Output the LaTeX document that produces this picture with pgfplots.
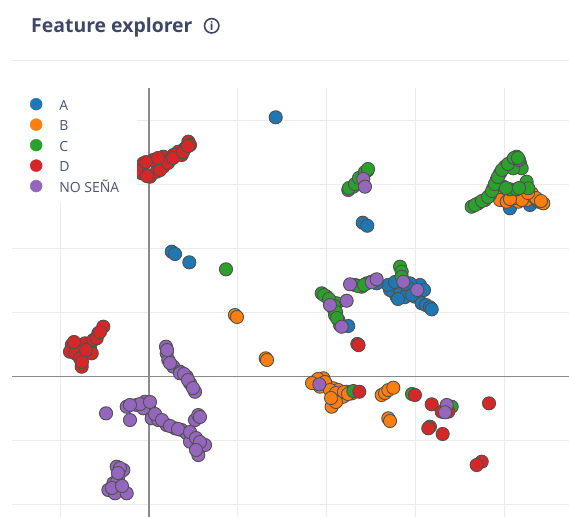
\documentclass[border=0pt]{standalone}
\usepackage{fontspec}
\setmainfont{Open Sans}
\usepackage{pgfplots}
\pgfplotsset{compat=1.18}
\definecolor{cA}{HTML}{1F77B4}
\definecolor{cB}{HTML}{FF7F0E}
\definecolor{cC}{HTML}{2CA02C}
\definecolor{cD}{HTML}{D62728}
\definecolor{cE}{HTML}{9467BD}
\definecolor{edgec}{HTML}{505050}
\definecolor{titlec}{HTML}{3E4766}
\definecolor{legc}{HTML}{4A5372}
\definecolor{gridc}{HTML}{EBEBEB}
\definecolor{zeroc}{HTML}{8A8A8A}
\pgfplotsset{
  pt/.style={only marks, mark=*, mark size=6.6pt, forget plot,
    mark options={draw=edgec, fill=#1, line width=0.9pt}},
}
\begin{document}
\begin{tikzpicture}
\useasboundingbox (0,0) rectangle (569bp,517bp);
\node[anchor=base west, inner sep=0pt, text=titlec, font=\fontsize{19.5}{22}\selectfont\bfseries] at (31bp,484.5bp) {Feature explorer};
\draw[titlec, line width=1.6bp] (211.7bp,491.2bp) circle (7.2bp);
\node[text=titlec, font=\fontsize{12}{13}\selectfont\bfseries, inner sep=0pt] at (211.7bp,491.2bp) {i};
\draw[gridc, line width=1bp] (12bp,456bp) -- (569bp,456bp);
\begin{axis}[
  at={(12bp,0bp)}, anchor=south west,
  scale only axis, width=557bp, height=429bp,
  xmin=-1.543, xmax=4.730, ymin=-2.195, ymax=4.508,
  axis line style={draw=none}, tick style={draw=none},
  xtick={-1,1,2,3,4}, ytick={-2,-1,1,2,3,4},
  xticklabels={}, yticklabels={},
  grid=major, major grid style={gridc, line width=1bp},
  extra x ticks={0}, extra y ticks={0}, extra x tick labels={}, extra y tick labels={},
  extra tick style={grid=major, major grid style={zeroc, line width=1.5bp}},
  legend style={at={(0,1)}, anchor=north west, draw=none, fill=white,
    inner xsep=18bp, inner ysep=10bp, row sep=8.5bp,
    font=\fontsize{14}{16}\selectfont, text=legc,
    nodes={inner sep=0pt, text height=10bp, text depth=0bp}},
  legend cell align=left,
  legend image code/.code={\path (0bp,0bp) (28bp,0bp); \draw[#1] plot coordinates {(5bp,1bp)};},
]
\addlegendimage{only marks, mark=*, mark size=6pt, color=cA}
\addlegendentry{A}
\addlegendimage{only marks, mark=*, mark size=6pt, color=cB}
\addlegendentry{B}
\addlegendimage{only marks, mark=*, mark size=6pt, color=cC}
\addlegendentry{C}
\addlegendimage{only marks, mark=*, mark size=6pt, color=cD}
\addlegendentry{D}
\addlegendimage{only marks, mark=*, mark size=6pt, color=cE}
\addlegendentry{NO SEÑA}
% A
\addplot[pt=cA] coordinates {
(1.427,4.050)
(0.256,1.950) (0.293,1.914) (0.454,1.784)
(2.407,2.403) (2.458,2.356)
(2.751,1.325) (2.827,1.403) (2.902,1.273) (2.789,1.247) (2.976,1.378) (3.052,1.430)
(3.033,1.325) (2.714,1.352) (2.864,1.481) (2.939,1.456) (2.995,1.247) (2.827,1.300)
(2.691,1.430) (2.770,1.477) (2.917,1.383) (2.883,1.242) (3.097,1.352) (2.804,1.211) (2.962,1.273)
(3.071,1.144) (3.119,1.117) (3.164,1.081) (3.184,1.050)
(2.545,1.497) (2.564,1.456)
(2.244,0.789)
(4.065,2.628) (4.291,2.680) (4.384,2.731)
};
% B
\addplot[pt=cB] coordinates {
(0.968,0.961) (0.991,0.930) (1.314,0.284) (1.329,0.258)
(3.953,2.758) (4.028,2.731) (4.159,2.731) (4.253,2.758) (4.328,2.809) (4.384,2.758)
(4.440,2.706) (4.310,2.863) (4.102,2.784)
(4.200,2.758) (4.358,2.789) (4.414,2.742) (4.065,2.773) (4.268,2.867)
(1.869,-0.081) (1.963,-0.028) (2.001,-0.133) (2.075,-0.184) (2.151,-0.289) (2.075,-0.367)
(2.057,-0.472) (2.226,-0.238) (2.283,-0.263) (2.132,-0.211) (1.926,-0.159) (2.188,-0.316)
(1.903,-0.039) (1.982,-0.086) (2.038,-0.211) (2.106,-0.258) (2.196,-0.242) (2.106,-0.398)
(2.241,-0.273) (2.050,-0.336) (1.836,-0.102)
(2.620,-0.289) (2.658,-0.258) (2.695,-0.211) (2.751,-0.175)
(2.695,-0.653) (2.714,-0.695)
};
% C
\addplot[pt=cC] coordinates {
(0.867,1.675)
(2.244,2.914) (2.301,2.966) (2.357,3.044) (2.413,3.148) (2.458,3.216) (2.395,3.070)
(2.252,2.945) (2.320,3.008) (2.365,3.102) (2.432,3.195) (2.466,3.242)
(1.945,1.300) (2.001,1.247) (2.057,1.169) (2.075,1.066) (2.095,0.961) (2.132,0.883)
(2.151,0.805) (2.114,1.144)
(1.971,1.273) (2.027,1.211) (2.083,1.102) (2.106,1.008) (2.117,0.914)
(2.320,1.430) (2.395,1.403) (2.452,1.456) (2.508,1.481) (2.354,1.414) (2.421,1.430)
(2.827,1.716) (2.846,1.638) (2.846,1.559)
(3.634,2.653) (3.708,2.706) (3.784,2.758) (3.840,2.836) (3.877,2.941) (3.916,3.070)
(3.953,3.175) (4.009,3.278) (4.084,3.356) (4.141,3.434) (4.178,3.331) (4.197,3.253)
(4.102,3.253) (3.990,2.966) (4.065,2.925) (4.141,2.925) (4.215,2.966) (4.253,3.044)
(4.271,2.941)
(3.671,2.680) (3.750,2.742) (3.818,2.805) (3.863,2.898) (3.896,3.008) (3.930,3.117)
(3.975,3.227) (4.043,3.320) (4.110,3.414) (4.167,3.383) (4.020,2.945) (4.167,2.945) (4.155,3.414)
(2.301,-0.227) (2.962,-0.273) (3.409,-0.472)
};
% D
\addplot[pt=cD] coordinates {
(-0.120,3.253) (-0.064,3.331) (-0.082,3.175) (0.011,3.122) (0.087,3.200) (0.161,3.278)
(0.048,3.383) (0.161,3.434) (0.217,3.356) (0.330,3.513) (0.405,3.566) (0.443,3.669)
(0.462,3.617) (0.274,3.461) (0.368,3.461)
(-0.146,3.226) (-0.023,3.131) (0.124,3.226) (0.214,3.336) (0.270,3.413) (0.383,3.507)
(0.439,3.600) (-0.034,3.351) (0.101,3.414)
(-0.870,0.492) (-0.890,0.388) (-0.833,0.363) (-0.777,0.284) (-0.758,0.153) (-0.721,0.519)
(-0.664,0.441) (-0.627,0.570) (-0.571,0.675) (-0.515,0.778) (-0.645,0.363) (-0.589,0.597)
(-0.845,0.539) (-0.709,0.414) (-0.552,0.695) (-0.755,0.227)
(2.346,0.508) (2.360,0.490)
(2.368,-0.238) (2.995,-0.289) (3.184,-0.434) (3.296,-0.550) (3.370,-0.550) (3.164,-0.784)
(3.145,-0.809) (3.307,-0.898) (3.829,-0.419) (3.747,-1.331) (3.690,-1.383)
};
% NO SENA
\addplot[pt=cE] coordinates {
(2.413,3.086) (2.432,2.966)
(2.038,1.117) (2.226,1.184) (2.170,0.778)
(2.264,1.441) (2.508,1.472) (2.564,1.519)
(2.864,1.481) (3.021,1.352)
(1.918,-0.122) (3.353,-0.445) (3.333,-0.559)
(0.191,0.466) (0.199,0.363) (0.217,0.258) (0.274,0.153) (0.349,0.075) (0.425,-0.003)
(0.462,-0.106) (0.518,-0.238) (0.349,0.050)
(0.203,0.414) (0.236,0.211) (0.394,0.039) (0.439,-0.055) (0.495,-0.180)
(-0.484,-0.575)
(-0.251,-0.472) (-0.214,-0.680) (-0.139,-0.445) (-0.045,-0.394) (0.011,-0.523) (0.030,-0.653)
(0.105,-0.680) (0.199,-0.758) (0.293,-0.809) (0.368,-0.836) (0.425,-0.888) (0.518,-0.680)
(0.555,-0.602) (0.481,-0.941) (0.518,-1.044) (0.574,-1.097) (0.555,-1.227) (0.631,-1.070)
(0.462,-1.019) (-0.064,-0.497)
(-0.101,-0.430) (0.011,-0.398) (0.068,-0.586) (0.146,-0.680) (0.236,-0.773) (0.327,-0.820)
(0.462,-0.867) (0.529,-0.961) (0.574,-1.023) (0.529,-1.148) (0.574,-0.633) (-0.214,-0.445)
(-0.364,-1.409) (-0.289,-1.461) (-0.346,-1.566) (-0.402,-1.669) (-0.458,-1.773) (-0.307,-1.773)
(-0.383,-1.825) (-0.251,-1.825)
(-0.327,-1.430) (-0.360,-1.648) (-0.417,-1.742) (-0.304,-1.711) (-0.349,-1.508)
};
\end{axis}
\end{tikzpicture}
\end{document}
